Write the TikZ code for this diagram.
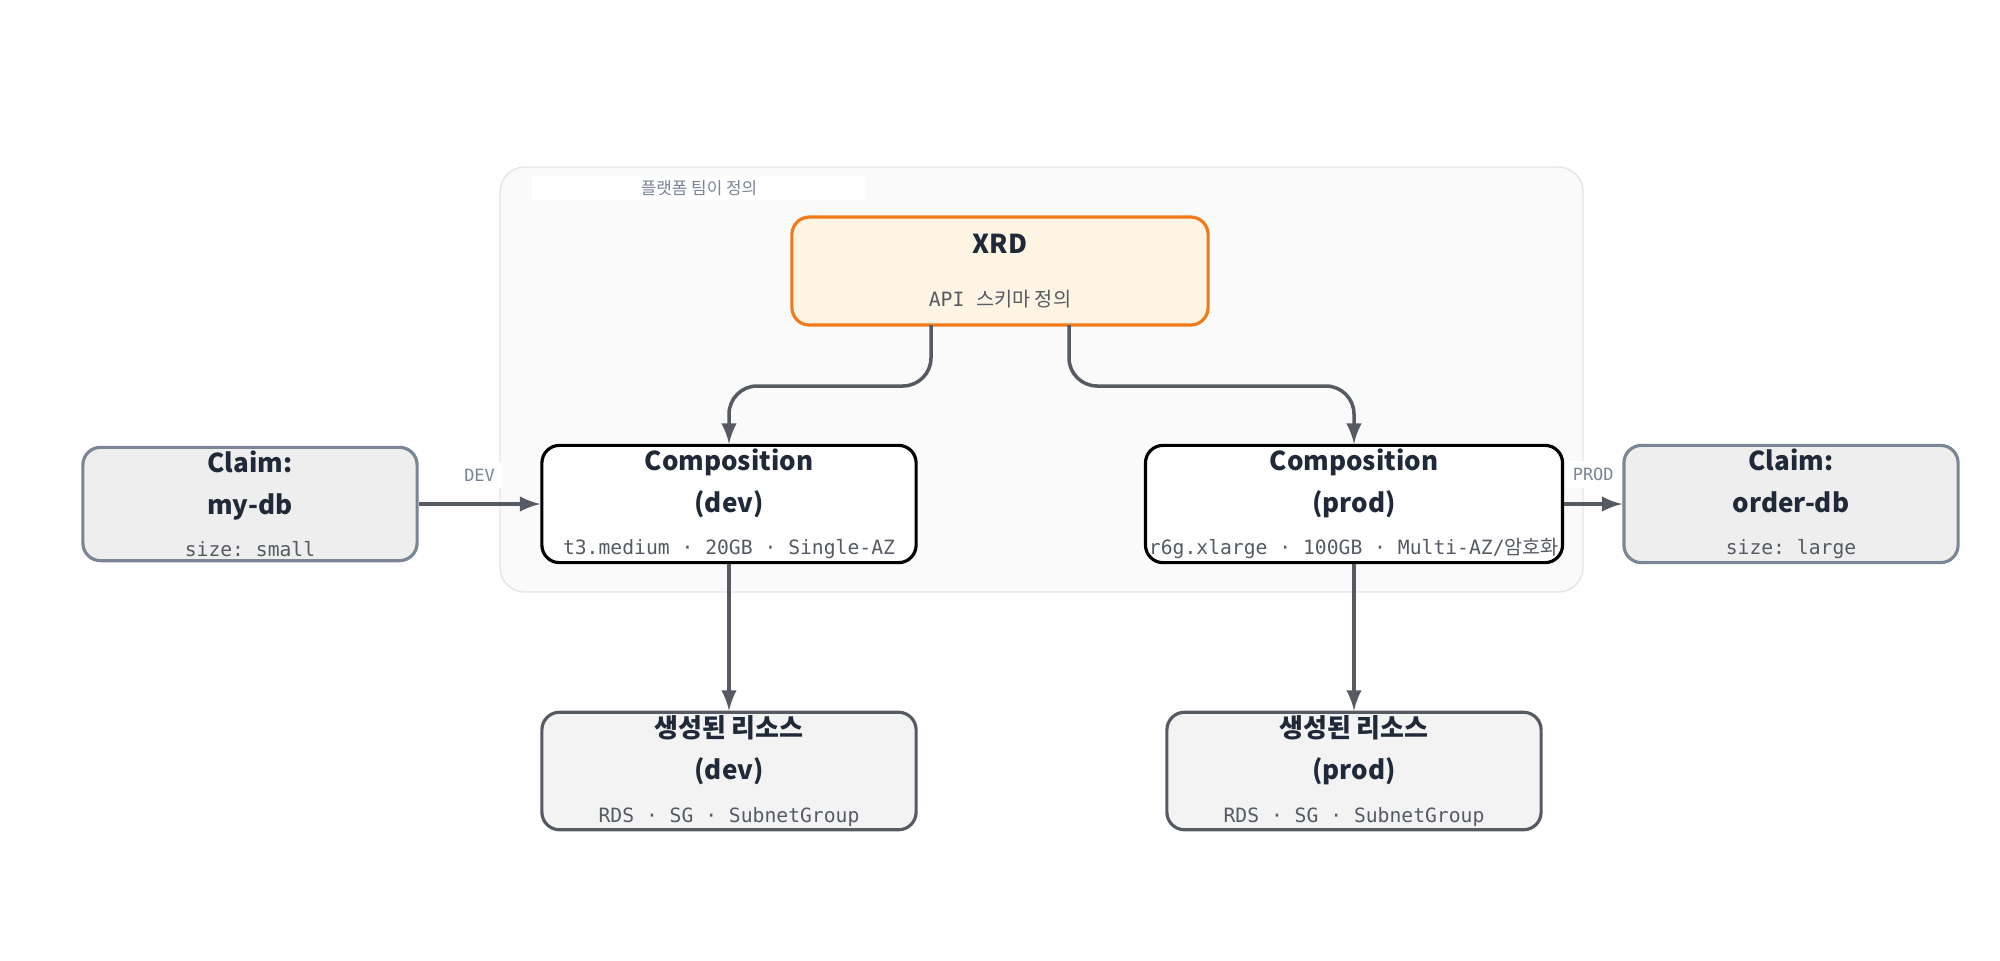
\documentclass[tikz,border=0pt]{standalone}
\usepackage{fontspec}
\setmainfont{Noto Sans CJK KR}
\setmonofont{DejaVu Sans Mono}
\newfontfamily\cjk{Noto Sans CJK KR}
\usetikzlibrary{positioning}
\definecolor{edgegray}{HTML}{555A63}
\definecolor{inkblue}{HTML}{1F2937}
\definecolor{xrdfill}{HTML}{FEF4E4}
\definecolor{xrdline}{HTML}{F07A1A}
\definecolor{claimfill}{HTML}{EEEEEE}
\definecolor{claimline}{HTML}{7A8595}
\definecolor{resfill}{HTML}{F3F3F3}
\definecolor{groupfill}{HTML}{FAFAFA}
\definecolor{groupline}{HTML}{E5E5E5}
\newcommand{\titlefont}{\fontsize{7.4}{8.8}\selectfont\bfseries}
\newcommand{\subfont}{\fontsize{5.6}{7.2}\selectfont\mdseries\ttfamily\color{edgegray}}
\tikzset{
  box/.style = {draw, rounded corners=5pt, line width=0.9pt, minimum width=3.74cm,
    minimum height=1.09cm, align=center, text=inkblue, inner sep=1pt},
  arrow/.style = {edgegray, line width=1pt, -latex},
  tag/.style = {fill=white, text=claimline, font=\fontsize{4.8}{5}\selectfont\ttfamily, inner sep=2pt}
}
\begin{document}
\begin{tikzpicture}[x=0.01cm, y=-0.01cm]
                \useasboundingbox (0,0) rectangle (2000,960);
                % group
                \draw[fill=groupfill, draw=groupline, rounded corners=7pt]
                    (500,167) rectangle (1583,592);
                \node[fill=white, minimum width=3.33cm, minimum height=0.24cm, inner sep=0pt] (grouptag) at (699,188) {};
                \node[text=claimline, font=\fontsize{4.8}{5}\selectfont\cjk] (grouptext) at (grouptag) {플랫폼 팀이 정의};

                \node[box, fill=xrdfill, draw=xrdline, minimum width=4.16cm, minimum height=1.08cm] (xrd) at (1000,271)
                    {\titlefont XRD\\[3pt] \subfont API {\cjk 스키마 정의}};
                \node[box, fill=white] (compdev) at (729,504)
                    {\titlefont Composition\\ \titlefont (dev)\\ \subfont t3.medium · 20GB · Single-AZ};
                \node[box, fill=white] (compprod) at (1354,504)
                    {\titlefont Composition\\ \titlefont (prod)\\ \subfont r6g.xlarge · 100GB · Multi-AZ/{\cjk 암호화}};
                \node[box, fill=claimfill, draw=claimline, minimum width=3.34cm] (claimdev) at (250,504)
                    {\titlefont Claim:\\ \titlefont my-db\\ \subfont size: small};
                \node[box, fill=claimfill, draw=claimline, minimum width=3.34cm] (claimprod) at (1791,504)
                    {\titlefont Claim:\\ \titlefont order-db\\ \subfont size: large};
                \node[box, fill=resfill, draw=edgegray, minimum height=1.08cm] (resdev) at (729,771)
                    {\titlefont 생성된 리소스\\ \titlefont (dev)\\ \subfont RDS · SG · SubnetGroup};
                \node[box, fill=resfill, draw=edgegray, minimum height=1.08cm] (resprod) at (1354,771)
                    {\titlefont 생성된 리소스\\ \titlefont (prod)\\ \subfont RDS · SG · SubnetGroup};

                \coordinate (xrddev) at (931,325);
                \coordinate (xrdprod) at (1069,325);
                \draw[arrow, rounded corners=8pt] (xrddev) |- (729,386) -- (compdev.north);
                \draw[arrow, rounded corners=8pt] (xrdprod) |- (1354,386) -- (compprod.north);
                \draw[arrow] (claimdev) -- node[tag, above=4pt] (devtag) {DEV} (compdev);
                \draw[arrow] (compprod) -- node[tag, above=4pt] (prodtag) {PROD} (claimprod);
                \draw[arrow] (compdev) -- (resdev);
                \draw[arrow] (compprod) -- (resprod);
            \end{tikzpicture}
\end{document}
